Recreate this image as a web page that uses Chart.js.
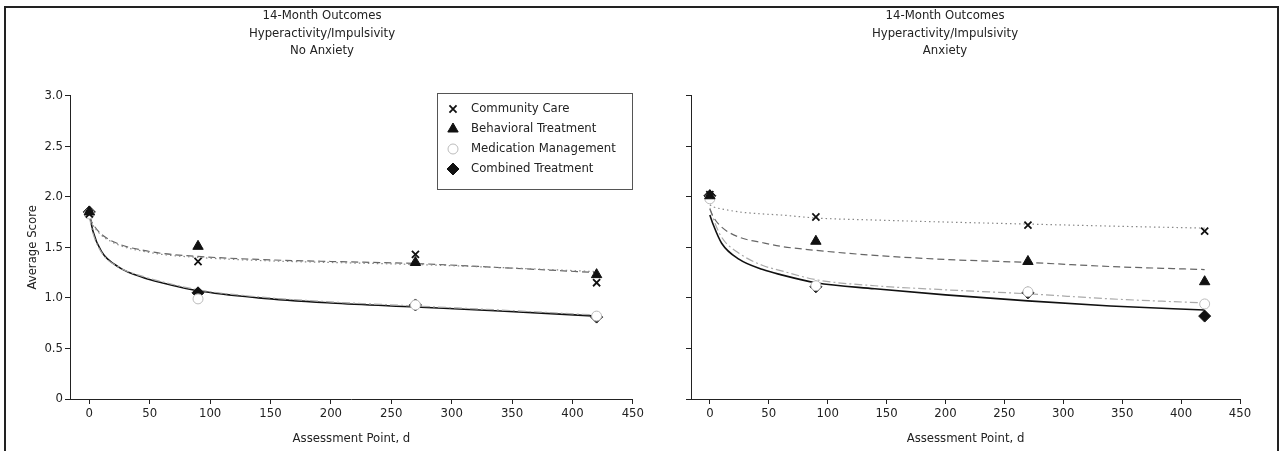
<!DOCTYPE html>
<html>
<head>
<meta charset="utf-8">
<script src="https://cdn.jsdelivr.net/npm/chart.js@4/dist/chart.umd.min.js"></script>
<style>
    html, body { margin: 0; padding: 0; background: #fff; }
    #page { position: relative; width: 1279px; height: 451px; overflow: hidden; }
    .panel { position: absolute; top: 0; height: 451px; }
    #frame { position: absolute; left: 4px; top: 6px; width: 1271px; height: 470px; border: 2px solid #222; pointer-events: none; }
</style>
</head>
<body>
<div id="page">
    <div class="panel" style="left:0;width:646px;"><canvas id="chart-no-anxiety"></canvas></div>
    <div class="panel" style="left:640px;width:639px;"><canvas id="chart-anxiety"></canvas></div>
    <div id="frame"></div>
</div>
<script>
"use strict";

// assessment points (days) and series names
var days = [0, 90, 270, 420];
var seriesNames = ["Community Care", "Behavioral Treatment", "Medication Management", "Combined Treatment"];

// observed means, no anxiety
var noAnxCommunity = [1.83, 1.36, 1.43, 1.15];
var noAnxBehavioral = [1.85, 1.51, 1.35, 1.23];
var noAnxMedication = [1.83, 0.99, 0.93, 0.82];
var noAnxCombined = [1.85, 1.05, 0.93, 0.81];

// observed means, anxiety
var anxCommunity = [2.02, 1.80, 1.72, 1.66];
var anxBehavioral = [2.01, 1.56, 1.36, 1.16];
var anxMedication = [1.98, 1.12, 1.06, 0.94];
var anxCombined = [2.01, 1.11, 1.05, 0.82];

// fitted curves at these days
var curveDays = [0, 3, 10, 25, 45, 60, 90, 140, 200, 270, 340, 420];
var noAnxCommunityFit = [1.80, 1.72, 1.62, 1.52, 1.46, 1.43, 1.40, 1.37, 1.35, 1.33, 1.30, 1.26];
var noAnxBehavioralFit = [1.80, 1.73, 1.63, 1.53, 1.47, 1.44, 1.41, 1.38, 1.36, 1.34, 1.30, 1.25];
var noAnxMedicationFit = [1.80, 1.64, 1.45, 1.30, 1.21, 1.16, 1.08, 1.01, 0.96, 0.92, 0.88, 0.83];
var noAnxCombinedFit = [1.84, 1.66, 1.46, 1.30, 1.20, 1.15, 1.07, 1.00, 0.95, 0.91, 0.87, 0.82];

var anxCommunityFit = [1.92, 1.90, 1.88, 1.85, 1.83, 1.82, 1.79, 1.77, 1.75, 1.73, 1.71, 1.69];
var anxBehavioralFit = [1.88, 1.80, 1.70, 1.60, 1.545, 1.51, 1.47, 1.42, 1.38, 1.35, 1.31, 1.28];
var anxMedicationFit = [1.89, 1.78, 1.60, 1.44, 1.32, 1.27, 1.18, 1.12, 1.08, 1.04, 0.99, 0.95];
var anxCombinedFit = [1.82, 1.72, 1.54, 1.38, 1.28, 1.23, 1.15, 1.09, 1.03, 0.97, 0.92, 0.88];

var FONT = "'Liberation Sans Narrow', 'Arial Narrow', 'DejaVu Sans Condensed', 'Liberation Sans', sans-serif";
Chart.defaults.font.family = FONT;
Chart.defaults.color = "#222";

// marker and line look per series
var markerStyles = [
    { pointStyle: "crossRot", radius: 5, borderWidth: 1.8, fill: "#111", stroke: "#111" },
    { pointStyle: "triangle", radius: 6, borderWidth: 1, fill: "#111", stroke: "#111" },
    { pointStyle: "circle", radius: 5, borderWidth: 1, fill: "#fff", stroke: "#bbb" },
    { pointStyle: "rectRot", radius: 6, borderWidth: 1, fill: "#111", stroke: "#111" }
];
var lineStyles = [
    { color: "#888", width: 1.2, dash: [1.5, 3] },
    { color: "#666", width: 1.2, dash: [7, 4] },
    { color: "#aaa", width: 1.2, dash: [8, 3, 2, 3] },
    { color: "#111", width: 1.6, dash: [] }
];

function toPoints(xs, ys) {
    return xs.map(function (x, i) { return { x: x, y: ys[i] }; });
}

function buildDatasets(observed, fitted) {
    var sets = [];
    for (var i = 0; i < observed.length; i++) {
        var m = markerStyles[i];
        sets.push({
            label: seriesNames[i],
            data: toPoints(days, observed[i]),
            showLine: false,
            pointStyle: m.pointStyle,
            pointRadius: m.radius,
            pointBorderWidth: m.borderWidth,
            pointBackgroundColor: m.fill,
            pointBorderColor: m.stroke
        });
    }
    for (var j = 0; j < fitted.length; j++) {
        var l = lineStyles[j];
        sets.push({
            label: seriesNames[j] + " fit",
            data: toPoints(curveDays, fitted[j]),
            showLine: true,
            pointRadius: 0,
            borderColor: l.color,
            borderWidth: l.width,
            borderDash: l.dash,
            cubicInterpolationMode: "monotone",
            fill: false
        });
    }
    return sets;
}

/* legend drawn inside the left plot */
var legendBox = {
    id: "legendBox",
    afterDraw: function (chart) {
        if (!chart.options.plugins.legendBox || !chart.options.plugins.legendBox.show) return;
        var ctx = chart.ctx;
        ctx.save();
        ctx.strokeStyle = "#555";
        ctx.lineWidth = 1;
        ctx.strokeRect(437.5, 93.5, 195, 96);
        ctx.font = "13px " + FONT;
        ctx.textBaseline = "middle";
        ctx.fillStyle = "#222";
        for (var i = 0; i < seriesNames.length; i++) {
            var y = 109 + i * 20;
            var m = markerStyles[i];
            ctx.fillStyle = m.fill;
            ctx.strokeStyle = m.stroke;
            ctx.lineWidth = m.borderWidth;
            Chart.helpers.drawPoint(ctx, { pointStyle: m.pointStyle, radius: m.radius, borderWidth: m.borderWidth, rotation: 0 }, 453, y);
            ctx.fillStyle = "#222";
            ctx.fillText(seriesNames[i], 471, y);
        }
        ctx.restore();
    }
};

function makeChart(id, titleLines, observed, fitted, cfg) {
    var ctx = document.getElementById(id);
    return new Chart(ctx, {
        type: "scatter",
        data: { datasets: buildDatasets(observed, fitted) },
        plugins: [legendBox],
        options: {
            responsive: true,
            maintainAspectRatio: false,
            animation: false,
            layout: { padding: { left: cfg.padLeft, right: cfg.padRight, top: 0, bottom: 0 } },
            plugins: {
                legend: { display: false },
                tooltip: { enabled: false },
                legendBox: { show: cfg.legend },
                title: {
                    display: true,
                    text: titleLines,
                    font: { size: 13, weight: "normal", lineHeight: 1.35 },
                    color: "#222",
                    padding: { top: 7, bottom: cfg.titleGap }
                }
            },
            scales: {
                x: {
                    type: "linear",
                    min: -16,
                    max: 450,
                    afterFit: function (scale) { scale.height = 52; },
                    ticks: { stepSize: 50, includeBounds: false, font: { size: 13 }, padding: 2, color: "#222" },
                    grid: { drawOnChartArea: false, drawTicks: true, tickLength: 5, tickColor: "#222" },
                    border: { display: true, color: "#222", width: 1 },
                    title: { display: true, text: "Assessment Point, d", font: { size: 13, lineHeight: 1.2 }, padding: { top: 0, bottom: 5 }, color: "#222" }
                },
                y: {
                    min: 0,
                    max: 3,
                    afterFit: function (scale) { scale.width = cfg.yWidth; },
                    ticks: {
                        stepSize: 0.5,
                        padding: 2,
                        font: { size: 13 },
                        color: "#222",
                        callback: function (v) {
                            if (!cfg.yLabels) return "";
                            return v === 0 ? "0" : v.toFixed(1);
                        }
                    },
                    grid: { drawOnChartArea: false, drawTicks: true, tickLength: 5, tickColor: "#222" },
                    border: { display: true, color: "#222", width: 1 },
                    title: { display: cfg.yLabels, text: "Average Score", font: { size: 13, lineHeight: 1.2 }, padding: { top: 25, bottom: 0 }, color: "#222" }
                }
            }
        }
    });
}

makeChart("chart-no-anxiety",
    ["14-Month Outcomes", "Hyperactivity/Impulsivity", "No Anxiety"],
    [noAnxCommunity, noAnxBehavioral, noAnxMedication, noAnxCombined],
    [noAnxCommunityFit, noAnxBehavioralFit, noAnxMedicationFit, noAnxCombinedFit],
    { padLeft: 0, padRight: 2, yWidth: 70, yLabels: true, legend: true, titleGap: 36 });

makeChart("chart-anxiety",
    ["14-Month Outcomes", "Hyperactivity/Impulsivity", "Anxiety"],
    [anxCommunity, anxBehavioral, anxMedication, anxCombined],
    [anxCommunityFit, anxBehavioralFit, anxMedicationFit, anxCombinedFit],
    { padLeft: 10, padRight: 39, yWidth: 41, yLabels: false, legend: false, titleGap: 36 });
</script>
</body>
</html>
